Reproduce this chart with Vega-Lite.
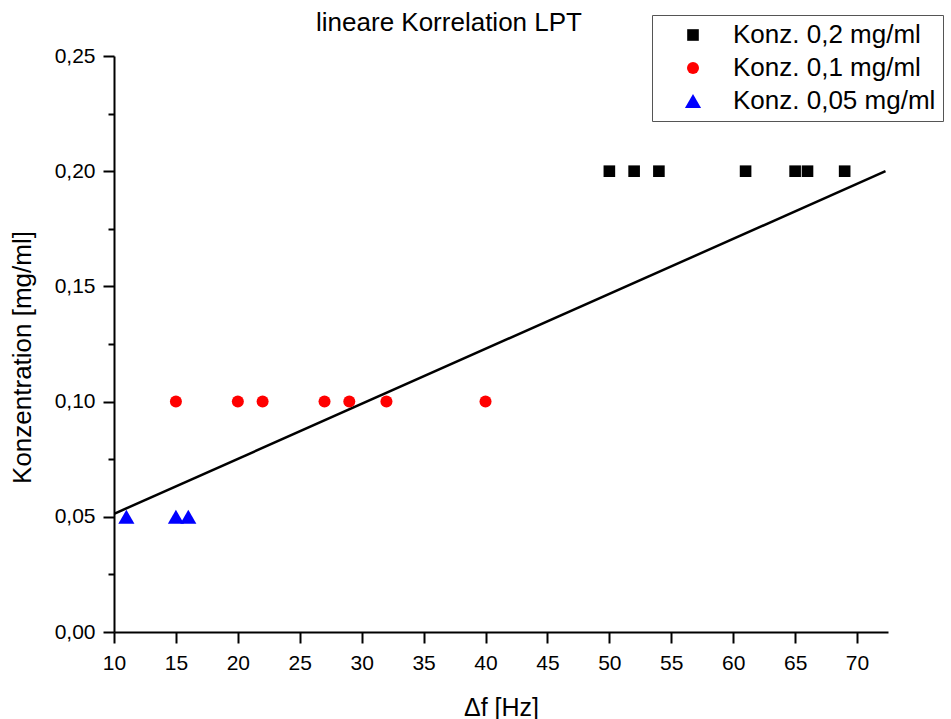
{
  "$schema": "https://vega.github.io/schema/vega-lite/v6.json",
  "width": 774,
  "height": 576,
  "autosize": {"type": "none"},
  "padding": {"left": 114, "top": 56, "right": 63, "bottom": 87},
  "background": "white",
  "config": {"view": {"stroke": null}, "font": "Liberation Sans"},
  "title": {
    "text": "lineare Korrelation LPT",
    "fontSize": 26,
    "fontWeight": "normal",
    "font": "Liberation Sans",
    "color": "black",
    "anchor": "middle",
    "frame": "group",
    "dx": -52,
    "dy": 25
  },
  "datasets": {
    "points": [
      {"df": 50, "k": 0.2, "serie": "Konz. 0,2 mg/ml"},
      {"df": 52, "k": 0.2, "serie": "Konz. 0,2 mg/ml"},
      {"df": 54, "k": 0.2, "serie": "Konz. 0,2 mg/ml"},
      {"df": 61, "k": 0.2, "serie": "Konz. 0,2 mg/ml"},
      {"df": 65, "k": 0.2, "serie": "Konz. 0,2 mg/ml"},
      {"df": 66, "k": 0.2, "serie": "Konz. 0,2 mg/ml"},
      {"df": 69, "k": 0.2, "serie": "Konz. 0,2 mg/ml"},
      {"df": 15, "k": 0.1, "serie": "Konz. 0,1 mg/ml"},
      {"df": 20, "k": 0.1, "serie": "Konz. 0,1 mg/ml"},
      {"df": 22, "k": 0.1, "serie": "Konz. 0,1 mg/ml"},
      {"df": 27, "k": 0.1, "serie": "Konz. 0,1 mg/ml"},
      {"df": 29, "k": 0.1, "serie": "Konz. 0,1 mg/ml"},
      {"df": 32, "k": 0.1, "serie": "Konz. 0,1 mg/ml"},
      {"df": 40, "k": 0.1, "serie": "Konz. 0,1 mg/ml"},
      {"df": 11, "k": 0.05, "serie": "Konz. 0,05 mg/ml"},
      {"df": 15, "k": 0.05, "serie": "Konz. 0,05 mg/ml"},
      {"df": 16, "k": 0.05, "serie": "Konz. 0,05 mg/ml"}
    ],
    "fit": [
      {"df": 10.05, "k": 0.0514},
      {"df": 72.3, "k": 0.2}
    ]
  },
  "layer": [
    {
      "data": {"name": "fit"},
      "mark": {"type": "line", "color": "black", "strokeWidth": 2.5},
      "encoding": {
        "x": {
          "field": "df",
          "type": "quantitative",
          "scale": {"domain": [10, 72.5], "nice": false, "zero": false},
          "axis": {
            "values": [10, 12.5, 15, 17.5, 20, 22.5, 25, 27.5, 30, 32.5, 35, 37.5, 40, 42.5, 45, 47.5, 50, 52.5, 55, 57.5, 60, 62.5, 65, 67.5, 70, 72.5],
            "labelExpr": "datum.value % 5 == 0 ? datum.label : ''",
            "tickSize": {"condition": {"test": "datum.value % 5 != 0", "value": 6}, "value": 11},
            "grid": false,
            "domainColor": "black",
            "domainWidth": 2,
            "tickColor": "black",
            "tickWidth": 2,
            "labelFontSize": 21,
            "labelFont": "Liberation Sans",
            "labelColor": "black",
            "labelPadding": 9,
            "labelFlush": false,
            "labelOverlap": false,
            "title": "Δf [Hz]",
            "titleFont": "Liberation Sans",
            "titleFontSize": 25,
            "titleFontWeight": "normal",
            "titleColor": "black",
            "titleBaseline": "alphabetic",
            "titleY": 83
          }
        },
        "y": {
          "field": "k",
          "type": "quantitative",
          "scale": {"domain": [0, 0.25], "nice": false},
          "axis": {
            "values": [0, 0.025, 0.05, 0.075, 0.1, 0.125, 0.15, 0.175, 0.2, 0.225, 0.25],
            "labelExpr": "round(datum.value*1000) % 50 == 0 ? replace(format(datum.value, '.2f'), '.', ',') : ''",
            "tickSize": {"condition": {"test": "round(datum.value*1000) % 50 != 0", "value": 6}, "value": 11},
            "grid": false,
            "domainColor": "black",
            "domainWidth": 2,
            "tickColor": "black",
            "tickWidth": 2,
            "labelFontSize": 21,
            "labelFont": "Liberation Sans",
            "labelColor": "black",
            "labelPadding": 8,
            "labelFlush": false,
            "labelOverlap": false,
            "title": "Konzentration [mg/ml]",
            "titleFont": "Liberation Sans",
            "titleFontSize": 26,
            "titleFontWeight": "normal",
            "titleColor": "black",
            "titleAngle": -90,
            "titleAlign": "center",
            "titleBaseline": "alphabetic",
            "titleX": -84,
            "titleY": 301
          }
        }
      }
    },
    {
      "data": {"name": "points"},
      "mark": {"type": "point", "filled": true, "opacity": 1, "strokeWidth": 0},
      "encoding": {
        "x": {"field": "df", "type": "quantitative"},
        "y": {"field": "k", "type": "quantitative"},
        "color": {
          "field": "serie",
          "type": "nominal",
          "scale": {"domain": ["Konz. 0,2 mg/ml", "Konz. 0,1 mg/ml", "Konz. 0,05 mg/ml"], "range": ["#000000", "#ff0000", "#0000ff"]},
          "legend": {
            "orient": "none",
            "legendX": 538,
            "legendY": -41,
            "title": null,
            "labelFontSize": 26,
            "labelFont": "Liberation Sans",
            "labelColor": "black",
            "labelLimit": 400,
            "strokeColor": "#555555",
            "fillColor": "white",
            "padding": 7,
            "symbolOffset": 21,
            "labelOffset": 27,
            "rowPadding": 7,
            "symbolStrokeWidth": 0,
            "encode": {"legend": {"update": {"strokeWidth": {"value": 1.5}}}}
          }
        },
        "shape": {
          "field": "serie",
          "type": "nominal",
          "scale": {"domain": ["Konz. 0,2 mg/ml", "Konz. 0,1 mg/ml", "Konz. 0,05 mg/ml"], "range": ["square", "circle", "triangle-up"]}
        },
        "size": {
          "field": "serie",
          "type": "nominal",
          "scale": {"type": "ordinal", "domain": ["Konz. 0,2 mg/ml", "Konz. 0,1 mg/ml", "Konz. 0,05 mg/ml"], "range": [135, 145, 260]}
        }
      }
    }
  ]
}
